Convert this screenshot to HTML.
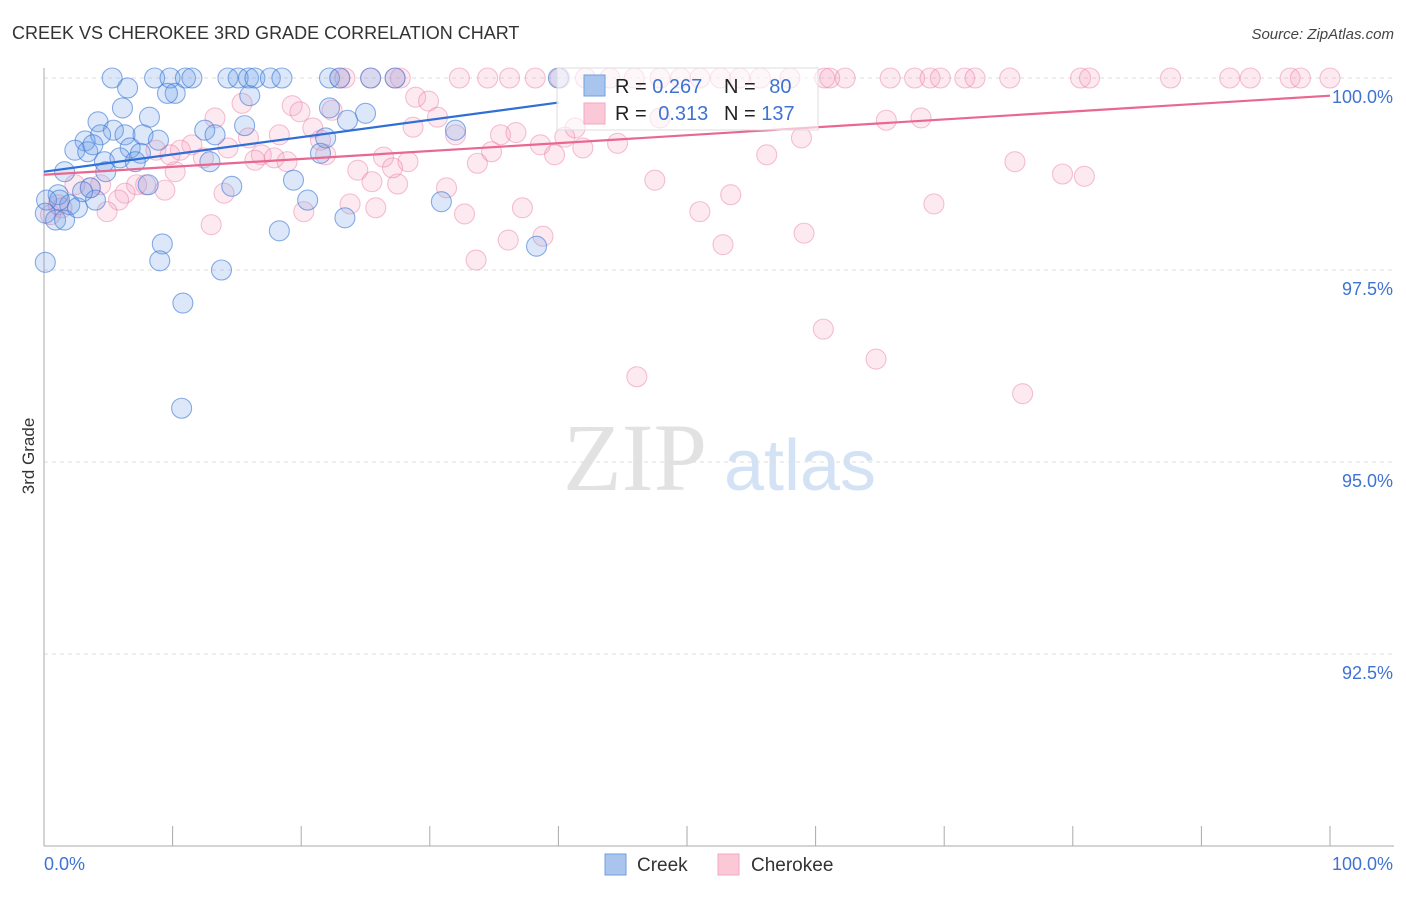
<!DOCTYPE html>
<html><head><meta charset="utf-8"><style>
body{margin:0;background:#fff;font-family:"Liberation Sans",sans-serif;}
svg text{font-family:"Liberation Sans",sans-serif;}
</style></head><body>
<svg id="chart" width="1406" height="892" viewBox="0 0 1406 892">
<text x="12" y="39" font-size="18" fill="#333">CREEK VS CHEROKEE 3RD GRADE CORRELATION CHART</text>
<text x="1394" y="39" font-size="15" fill="#444" text-anchor="end" font-style="italic">Source: ZipAtlas.com</text>
<text x="34" y="456" font-size="17" fill="#333" text-anchor="middle" transform="rotate(-90 34 456)">3rd Grade</text>
<g>
<text x="635" y="490" font-size="96" fill="#e2e2e2" text-anchor="middle" style="font-family:'Liberation Serif',serif">ZIP</text>
<text x="800" y="490" font-size="72" fill="#d3e2f4" text-anchor="middle">atlas</text>
</g>
<g id="grid"></g>
<g id="axes"></g>
<g id="points"></g>
<g id="lines"></g>
<g>
<rect x="557" y="68" width="261" height="62" fill="#fff" fill-opacity="0.6" stroke="#ddd"/>
<rect x="584" y="75" width="21" height="21" fill="#a9c5ee" stroke="#6e9ee0"/>
<text x="615" y="93" font-size="20" fill="#222">R = <tspan fill="#3f73d2">0.267</tspan></text>
<text x="724" y="93" font-size="20" fill="#222">N = <tspan fill="#3f73d2" dx="8">80</tspan></text>
<rect x="584" y="103" width="21" height="21" fill="#fbc8d7" stroke="#f0a8c0"/>
<text x="615" y="120" font-size="20" fill="#222">R = <tspan fill="#3f73d2" dx="6">0.313</tspan></text>
<text x="724" y="120" font-size="20" fill="#222">N = <tspan fill="#3f73d2">137</tspan></text>
</g>
<g>
<rect x="605" y="854" width="21" height="21" fill="#a9c5ee" stroke="#6e9ee0"/>
<text x="637" y="871" font-size="19" fill="#333">Creek</text>
<rect x="718" y="854" width="21" height="21" fill="#fbc8d7" stroke="#f0a8c0"/>
<text x="751" y="871" font-size="19" fill="#333">Cherokee</text>
</g>
</svg>
<script>
const yTicks=[100,97.5,95,92.5];
const yTickLabels=["100.0%","97.5%","95.0%","92.5%"];
const xEndLabels=["0.0%","100.0%"];
const creekX=[5.3,8.6,9.8,11.0,11.5,14.3,15.1,15.9,16.4,17.6,18.5,22.2,23.0,25.4,27.3,40.0,6.5,10.2,9.6,16.0,6.1,8.2,4.2,22.2,25.0,23.6,15.6,12.5,3.2,5.4,6.3,4.4,2.4,3.4,3.8,6.7,7.7,8.9,13.3,7.5,4.7,5.9,7.1,12.9,21.5,21.9,32.0,4.8,1.6,19.4,14.6,8.1,3.6,1.1,0.2,2.0,2.6,0.1,0.9,1.6,20.5,23.4,30.9,18.3,9.2,9.0,13.8,10.8,10.7,0.1,38.3,4.0,3.0,1.2];
const creekY=[100,100,100,100,100,100,100,100,100,100,100,100,100,100,100,100,99.87,99.8,99.8,99.77,99.61,99.49,99.43,99.61,99.54,99.45,99.38,99.32,99.18,99.32,99.26,99.26,99.06,99.04,99.13,99.09,99.26,99.19,99.26,99.02,98.91,98.96,98.91,98.91,99.02,99.22,99.32,98.78,98.78,98.67,98.59,98.61,98.57,98.48,98.41,98.35,98.31,98.24,98.15,98.15,98.41,98.18,98.39,98.01,97.84,97.62,97.5,97.07,95.7,97.6,97.81,98.41,98.52,98.41];
const cherX=[23.0,23.4,25.4,27.3,27.7,32.3,34.5,36.2,38.2,40.1,42.1,44.0,45.9,47.9,49.5,51.0,52.6,54.1,55.7,58.0,60.7,61.1,62.3,65.8,67.7,68.9,69.7,71.6,72.4,75.1,80.6,81.3,87.6,92.2,93.8,96.9,97.7,100.0,
15.4,19.3,19.9,13.3,22.4,28.9,29.9,30.6,28.7,32.0,35.5,36.7,20.9,21.5,15.9,18.3,14.3,11.5,10.6,8.7,12.4,10.2,16.9,17.9,16.4,18.9,21.9,24.4,25.5,26.4,27.5,28.3,27.1,33.7,34.8,38.6,39.7,40.5,41.9,41.3,44.6,47.9,56.2,58.9,65.5,68.2,75.5,79.2,80.9,69.2,53.4,51.0,47.5,52.8,59.1,60.6,64.7,46.1,76.1,31.3,32.7,37.2,36.1,38.8,33.6,25.8,23.8,20.2,13.0,14.0,9.4,7.9,7.2,6.3,5.8,4.9,3.6,2.4,1.4,0.5,4.4,1.1,9.8];
const cherY=[100,100,100,100,100,100,100,100,100,100,100,100,100,100,100,100,100,100,100,100,100,100,100,100,100,100,100,100,100,100,100,100,100,100,100,100,100,100,
99.67,99.64,99.56,99.48,99.58,99.75,99.7,99.49,99.36,99.26,99.26,99.29,99.35,99.19,99.22,99.26,99.09,99.13,99.06,99.06,98.96,98.78,99.0,98.96,98.93,98.91,99.0,98.8,98.65,98.97,98.62,98.91,98.83,98.89,99.04,99.13,99.0,99.23,99.09,99.35,99.15,99.48,99.0,99.22,99.45,99.48,98.91,98.75,98.72,98.36,98.48,98.26,98.67,97.83,97.98,96.73,96.34,96.11,95.89,98.57,98.23,98.31,97.89,97.94,97.63,98.31,98.36,98.26,98.09,98.5,98.54,98.61,98.61,98.5,98.41,98.26,98.57,98.61,98.31,98.22,98.61,98.35,99.0];
const creekTrend=[[0,98.78],[40,99.68]];
const cherTrend=[[0,98.74],[100,99.77]];
const NS="http://www.w3.org/2000/svg";
const X0=44,X1=1330,YTOP=78,YMIN=90,YMAX=100,YBOT=846;
function sx(v){return X0+(v/100)*(X1-X0);}
function sy(v){return YTOP+(YMAX-v)/(YMAX-YMIN)*(YBOT-YTOP);}
function mk(tag,attrs,parent){const e=document.createElementNS(NS,tag);for(const k in attrs)e.setAttribute(k,attrs[k]);parent.appendChild(e);return e;}
const grid=document.getElementById('grid'),axes=document.getElementById('axes'),pts=document.getElementById('points'),lines=document.getElementById('lines');
yTicks.forEach((t,i)=>{
 const l=mk('line',{x1:X0,x2:1394,y1:sy(t),y2:sy(t),stroke:'#ddd','stroke-dasharray':'4,4'},grid);
 
 
 const tx=mk('text',{x:1393,y:sy(t)+25,'font-size':18,fill:'#3f73d2','text-anchor':'end'},axes);
 tx.textContent=yTickLabels[i];
 
 
});
const ya=mk('line',{x1:X0,x2:X0,y1:68,y2:YBOT,stroke:'#aaa'},axes);


const xa=mk('line',{x1:X0,x2:1394,y1:YBOT,y2:YBOT,stroke:'#aaa'},axes);


for(let i=0;i<=10;i++){
 const t=mk('line',{x1:sx(i*10),x2:sx(i*10),y1:826,y2:YBOT,stroke:'#aaa'},axes);
 
 
}
const xl0=mk('text',{x:44,y:870,'font-size':18,fill:'#3f73d2'},axes);
xl0.textContent=xEndLabels[0];


const xl1=mk('text',{x:1393,y:870,'font-size':18,fill:'#3f73d2','text-anchor':'end'},axes);
xl1.textContent=xEndLabels[1];


cherX.forEach((x,i)=>{
 const r=(x<0.5&&cherY[i]<97.9)?19:10;
 const c=mk('circle',{cx:sx(x),cy:sy(cherY[i]),r:r,fill:'rgba(246,160,190,0.22)',stroke:'rgba(232,120,160,0.45)','stroke-width':1.1},pts);
 
 
});
creekX.forEach((x,i)=>{
 const c=mk('circle',{cx:sx(x),cy:sy(creekY[i]),r:10,fill:'rgba(110,160,230,0.24)',stroke:'rgba(60,120,215,0.6)','stroke-width':1.1},pts);
 
 
});
const bl=mk('line',{x1:sx(creekTrend[0][0]),y1:sy(creekTrend[0][1]),x2:sx(creekTrend[1][0]),y2:sy(creekTrend[1][1]),stroke:'#2f6fd6','stroke-width':2.2},lines);


const pl=mk('line',{x1:sx(cherTrend[0][0]),y1:sy(cherTrend[0][1]),x2:sx(cherTrend[1][0]),y2:sy(cherTrend[1][1]),stroke:'#e8688f','stroke-width':2.2},lines);


</script>
</body></html>
